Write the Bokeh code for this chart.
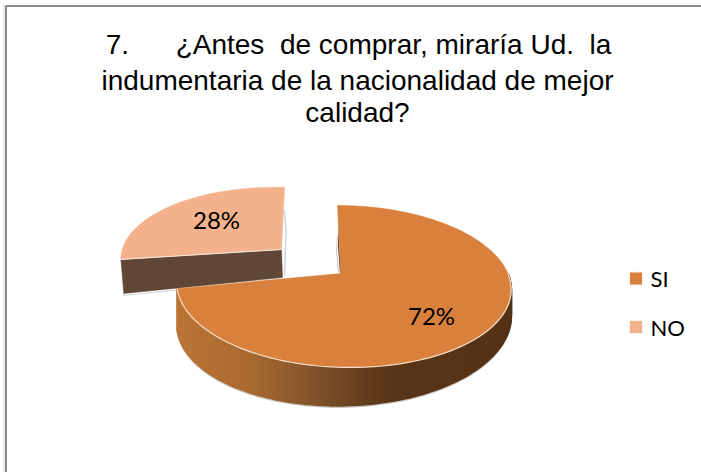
import math
from bokeh.plotting import figure
from bokeh.models import Range1d
from bokeh.core.properties import value
from bokeh.embed import file_html
from bokeh.resources import INLINE

categories = ["SI", "NO"]
shares = [72, 28]
labels = ["72%", "28%"]
title_lines = ["7.\u00a0\u00a0\u00a0\u00a0\u00a0\u00a0¿Antes\u00a0 de comprar, miraría Ud.\u00a0 la",
               "indumentaria de la nacionalidad de mejor",
               "calidad?"]
top_colors = ["#D8803C", "#F4B28C"]

W, H = 701, 472
p = figure(width=W, height=H, output_backend="svg", toolbar_location=None,
           x_range=Range1d(0, W), y_range=Range1d(H, 0), min_border=0)
p.axis.visible = False
p.grid.visible = False
p.outline_line_color = None
p.styles = {"position": "absolute", "left": "0px", "top": "0px"}

# frame
p.line([5.5, 5.5, W], [H, 5.5, 5.5], line_color="#8A8A8A", line_width=2)
p.line([3.5, 3.5], [H, 4], line_color="#E2E2E2", line_width=1.5)

K = 0.16
def project(t, apex, a, b, shear=0.0, rot=0.0):
    """perspective view of a circle point at clockwise angle t (degrees from top)"""
    u, v = math.sin(math.radians(t)), math.cos(math.radians(t))
    s = math.sqrt(1 - K * K)
    x = u * s / (1 + K * v)
    w = (v + K) / (1 + K * v)
    y = -(w - K)
    return apex[0] + a * x + shear * b * y, apex[1] + b * y + rot * a * x

def mix(c1, c2, f):
    return "#%02x%02x%02x" % tuple(round(c1[i] + (c2[i] - c1[i]) * f) for i in range(3))

stops = [(176, (186, 117, 52)), (250, (168, 106, 48)), (300, (136, 88, 44)),
         (385, (90, 53, 24)), (515, (84, 50, 22))]
def side_colour(x):
    for (x0, c0), (x1, c1) in zip(stops, stops[1:]):
        if x <= x1:
            return mix(c0, c1, max(0, (x - x0) / (x1 - x0)))
    return mix(stops[-1][1], stops[-1][1], 0)

end_si = 360 * shares[0] / sum(shares)

# --- exploded NO slice
no_apex = (281, 249)
a2, b2 = 160, 74
no_ts = [end_si + (360 - end_si) * i / 60 for i in range(61)]
no_pts = [project(t, no_apex, a2, b2, shear=-0.05, rot=0.025) for t in no_ts]
left = no_pts[0]
# shadow + wall of the slice
p.line([284, 285.5, 284], [210, 230, 276], line_color="#D0D4D8", line_width=1.5)
p.line([left[0] + 2, left[0] + 3, 283], [left[1] + 20, left[1] + 36, 279], line_color="#D4D4D4", line_width=1)
p.patch([left[0], no_apex[0], no_apex[0] + 1, left[0] + 3],
        [left[1], no_apex[1], no_apex[1] + 28, left[1] + 34],
        fill_color="#5F4637", line_color="#5F4637", line_width=0.5)
p.patch([no_apex[0]] + [q[0] for q in no_pts], [no_apex[1]] + [q[1] for q in no_pts],
        fill_color=top_colors[1], line_color=top_colors[1], line_width=0.5)
p.line([left[0], no_apex[0]], [left[1], no_apex[1]], line_color="#F6EDE6", line_width=1)

# --- main SI slice
apex = (340, 273)
arc_origin = (342.5, 273)
a1, b1 = 167, 81
sh1 = 0.08
def depth(t):
    r = math.radians(t)
    return 32.5 - 7.5 * math.sin(r) - 5.5 * math.cos(r)

n = 110
side_ts = [90 + (end_si - 90) * i / n for i in range(n + 1)]
top_side = [project(t, arc_origin, a1, b1, shear=sh1) for t in side_ts]
bottom = [(q[0], q[1] + depth(t)) for q, t in zip(top_side, side_ts)]

# soft shadow under the wall
p.line([q[0] for q in bottom], [q[1] + 1.5 for q in bottom], line_color="#C9C9C9", line_width=1.5)
xs, ys, cs = [], [], []
for i in range(n):
    xs.append([top_side[i][0], top_side[i + 1][0], bottom[i + 1][0], bottom[i][0]])
    ys.append([top_side[i][1], top_side[i + 1][1], bottom[i + 1][1], bottom[i][1]])
    cs.append(side_colour((top_side[i][0] + top_side[i + 1][0]) / 2))
p.patches(xs, ys, fill_color=cs, line_color=cs, line_width=2)

# dark sliver on the cut edge
p.line([339, 338, 340], [225, 245, 272], line_color="#5A4030", line_width=1.2)
p.line([337, 336, 338], [235, 250, 272], line_color="#C8C8C8", line_width=1)

si_ts = [end_si * i / 240 for i in range(241)]
si_pts = [project(t, arc_origin, a1, b1, shear=sh1) for t in si_ts]
p.patch([apex[0]] + [q[0] for q in si_pts], [apex[1]] + [q[1] for q in si_pts],
        fill_color=top_colors[0], line_color=top_colors[0], line_width=0.5)
p.line([q[0] for q in top_side], [q[1] for q in top_side], line_color="#F4DFCB", line_width=1.2)

# --- texts
p.text([431, 216], [315, 219], text=labels, text_font=value("Lato"), text_font_size="24px",
       text_color="#000000", text_align="center", text_baseline="middle")
p.text([358, 357, 357], [44, 80, 112], text=title_lines, text_font=value("Liberation Sans"),
       text_font_size="28px", text_color="#000000", text_align="center", text_baseline="middle")

# --- legend
leg_y = [278, 326.5]
p.scatter([635.5, 635.5], leg_y, marker="square", size=13, fill_color=top_colors,
          line_color="#F7F1EC", line_width=1)
p.text([650, 650], leg_y, text=categories, text_font=value("Lato"), text_font_size="22px",
       text_color="#000000", text_align="left", text_baseline="middle")

open("out.html", "w").write(file_html(p, INLINE))
